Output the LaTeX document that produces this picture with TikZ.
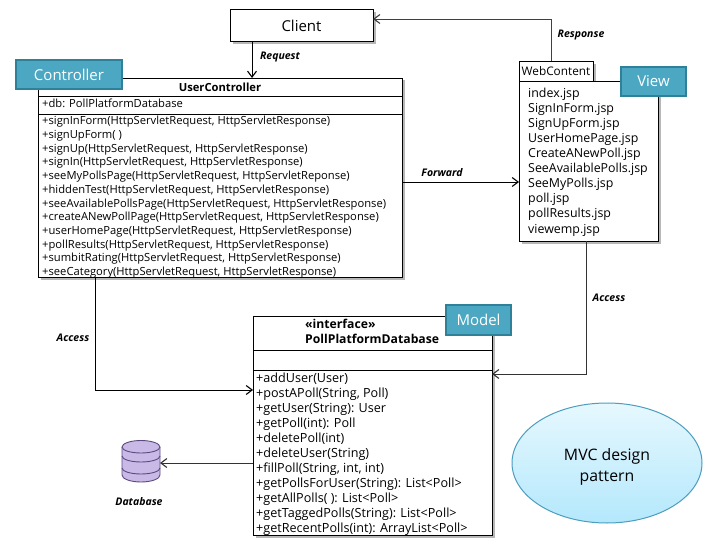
\documentclass[tikz,border=0pt]{standalone}
\usepackage{fontspec}
\setmainfont{Open Sans}
\usetikzlibrary{shadows,arrows.meta,shapes.geometric}
\definecolor{tagblue}{HTML}{4BA7C2}
\definecolor{tagedge}{HTML}{2F8199}
\definecolor{ovaltop}{HTML}{E6F8FE}
\definecolor{ovalbottom}{HTML}{B4E8FC}
\definecolor{ovaledge}{HTML}{4C9DBF}
\definecolor{dbfill}{HTML}{C9B9E6}
\definecolor{dbedge}{HTML}{5B4A80}
\tikzset{
  x=1pt,y=-1pt,
  umlbox/.style={draw=black,line width=0.8pt,fill=white,anchor=north west,inner sep=0pt,outer sep=0pt,
    drop shadow={shadow xshift=2.5pt,shadow yshift=-2.5pt,fill=black!35,opacity=.8}},
  tagbox/.style={draw=tagedge,line width=1.2pt,fill=tagblue,text=white,anchor=north west,inner sep=0pt,outer sep=0pt,font=\fontsize{15}{15}\selectfont},
  memberlist/.style={anchor=north west,align=left,inner sep=0pt,font=\fontsize{11.2}{13.72}\selectfont},
  filelist/.style={anchor=north west,align=left,inner sep=0pt,font=\fontsize{12.4}{15.1}\selectfont},
  conn/.style={line width=0.8pt,-{Straight Barb[length=6pt,width=9pt,line width=1.1pt]}},
  flowlabel/.style={font=\fontsize{10.5}{10.5}\selectfont\bfseries\itshape,inner sep=0pt},
  heading/.style={font=\fontsize{11.2}{15}\selectfont\bfseries,inner sep=0pt},
  divider/.style={line width=0.8pt}
}
\begin{document}
\begin{tikzpicture}
\useasboundingbox[fill=white] (0,0) rectangle (720,540);
% Client
\node[umlbox,minimum width=143pt,minimum height=32pt,font=\fontsize{15}{15}\selectfont] (client) at (230,9.5) {Client};
% UserController
\node[umlbox,minimum width=364pt,minimum height=199pt] (uc) at (38,78) {};
\coordinate (ucsepA) at (38,96);
\coordinate (ucsepB) at (38,114);
\draw[divider] (ucsepA) -- (ucsepA -| uc.east);
\draw[divider] (ucsepB) -- (ucsepB -| uc.east);
\node[heading] (ucname) at (220,87) {UserController};
\node[memberlist] (ucattr) at (42,99) {+db: PollPlatformDatabase};
\node[memberlist] (ucops) at (42,116) {+signInForm(HttpServletRequest, HttpServletResponse)\\
+signUpForm( )\\
+signUp(HttpServletRequest, HttpServletResponse)\\
+signIn(HttpServletRequest, HttpServletResponse)\\
+seeMyPollsPage(HttpServletRequest, HttpServletReponse)\\
+hiddenTest(HttpServletRequest, HttpServletResponse)\\
+seeAvailablePollsPage(HttpServletRequest, HttpServletResponse)\\
+createANewPollPage(HttpServletRequest, HttpServletResponse)\\
+userHomePage(HttpServletRequest, HttpServletResponse)\\
+pollResults(HttpServletRequest, HttpServletResponse)\\
+sumbitRating(HttpServletRequest, HttpServletResponse)\\
+seeCategory(HttpServletRequest, HttpServletResponse)};
% WebContent
\node[umlbox,minimum width=74pt,minimum height=20pt,font=\fontsize{11.8}{12}\selectfont] (tab) at (519,61.5) {WebContent};
\node[umlbox,minimum width=139pt,minimum height=160pt] (web) at (519,81) {};
\node[filelist] (files) at (528,87.5) {index.jsp\\SignInForm.jsp\\SignUpForm.jsp\\UserHomePage.jsp\\CreateANewPoll.jsp\\SeeAvailablePolls.jsp\\SeeMyPolls.jsp\\poll.jsp\\pollResults.jsp\\viewemp.jsp};
% Interface
\node[umlbox,minimum width=239pt,minimum height=219pt] (db) at (253,316) {};
\coordinate (dbsepA) at (253,350);
\coordinate (dbsepB) at (253,370);
\draw[divider] (dbsepA) -- (dbsepA -| db.east);
\draw[divider] (dbsepB) -- (dbsepB -| db.east);
\node[heading,anchor=north west,align=left,font=\fontsize{12.2}{15}\selectfont\bfseries] (dbname) at (305,319) {«interface»\\PollPlatformDatabase};
\node[filelist,font=\fontsize{12.6}{15}\selectfont] (dbops) at (256,373) {+addUser(User)\\
+postAPoll(String, Poll)\\
+getUser(String): User\\
+getPoll(int): Poll\\
+deletePoll(int)\\
+deleteUser(String)\\
+fillPoll(String, int, int)\\
+getPollsForUser(String): List<Poll>\\
+getAllPolls( ): List<Poll>\\
+getTaggedPolls(String): List<Poll>\\
+getRecentPolls(int): ArrayList<Poll>};
% Tags
\node[tagbox,minimum width=106pt,minimum height=29pt] (tagc) at (16,60) {Controller};
\node[tagbox,minimum width=65pt,minimum height=29pt] (tagv) at (621,67) {View};
\node[tagbox,minimum width=65pt,minimum height=30pt] (tagm) at (446,305) {Model};
% Database cylinder
\node[inner sep=0pt,outer sep=0pt,minimum width=38pt,minimum height=42pt] (store) at (141,461.5) {};
\draw[dbedge,line width=0.9pt,fill=dbfill] (122,447) arc[start angle=180,end angle=0,x radius=19pt,y radius=6.5pt] -- (160,475) arc[start angle=0,end angle=180,x radius=19pt,y radius=-7pt] -- cycle;
\draw[dbedge,line width=0.9pt] (122,447) arc[start angle=180,end angle=0,x radius=19pt,y radius=-6pt];
\draw[dbedge,line width=0.9pt] (122,456) arc[start angle=180,end angle=0,x radius=19pt,y radius=-6pt];
\draw[dbedge,line width=0.9pt] (122,468) arc[start angle=180,end angle=0,x radius=19pt,y radius=-6pt];
\node[flowlabel] (storelabel) at (139,502) {Database};
% Oval
\node[ellipse,draw=ovaledge,line width=1pt,top color=ovaltop,bottom color=ovalbottom,minimum width=190pt,minimum height=120pt,inner sep=0pt] (oval) at (607,463) {};
\node[inner sep=0pt,align=center,font=\fontsize{15.8}{21}\selectfont] (ovaltext) at (607,466.5) {MVC design\\pattern};
% Connectors
\coordinate (reqx) at (252,0);
\draw[conn] (reqx |- client.south) -- (reqx |- uc.north);
\coordinate (respx) at (551,19);
\draw[conn,black!75] (respx |- tab.north) -- (respx) -- (respx -| client.east);
\coordinate (fwdy) at (0,182);
\draw[conn] (fwdy -| uc.east) -- (fwdy -| web.west);
\coordinate (accl) at (95,390);
\draw[conn] (accl |- uc.south) -- (accl) -- (accl -| db.west);
\coordinate (accr) at (586,374);
\draw[conn,black!80] (accr |- web.south) -- (accr) -- (accr -| db.east);
\coordinate (storey) at (0,463);
\draw[conn,black!80] (storey -| db.west) -- (storey -| store.east);
% Labels
\node[flowlabel] (lreq) at (280,57) {Request};
\node[flowlabel] (lresp) at (581,35) {Response};
\node[flowlabel] (lfwd) at (442,173) {Forward};
\node[flowlabel] (lacl) at (73,338) {Access};
\node[flowlabel] (lacr) at (609,298) {Access};
\end{tikzpicture}
\end{document}
